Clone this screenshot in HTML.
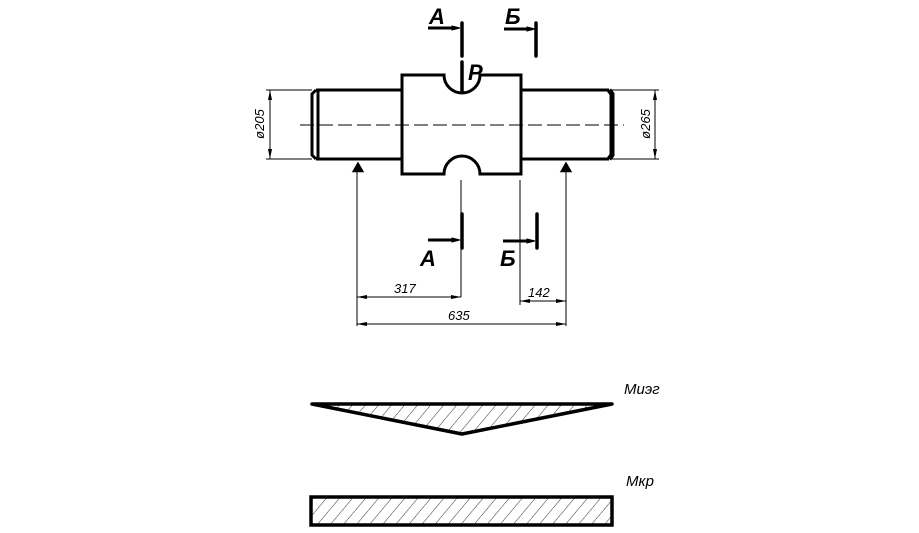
<!DOCTYPE html>
<html><head><meta charset="utf-8"><style>html,body{margin:0;padding:0;background:#fff}</style></head><body>
<svg width="919" height="528" viewBox="0 0 919 528" xmlns="http://www.w3.org/2000/svg" font-family="Liberation Sans, sans-serif">
<defs>
<pattern id="h" width="10" height="10" patternUnits="userSpaceOnUse" patternTransform="rotate(40)">
<line x1="0" y1="0" x2="0" y2="10" stroke="#000" stroke-width="0.8"/></pattern>
<marker id="ar" viewBox="0 0 10 6" refX="10" refY="3" markerWidth="10" markerHeight="6" markerUnits="userSpaceOnUse" orient="auto-start-reverse"><path d="M0,1 L10,3 L0,5z" fill="#000"/></marker>
</defs>
<g fill="none" stroke="#000">
<path d="M316,90 H402 V75 H444 A18,18 0 0 0 480,75 H521 V90 H609 M609,159 H521 V174 H480 A18,18 0 0 0 444,174 H402 V159 H316" stroke-width="3"/>
<path d="M316,90 L312,94 V155 L316,159 M318,90 V159 M402,90 V159 M521,90 V159" stroke-width="3"/>
<path d="M609,90 L612,94 V155 L609,159" stroke-width="5"/>
<line x1="300" y1="125" x2="624" y2="125" stroke-width="1" stroke-dasharray="14,5"/>
<path d="M266,90 H312 M266,159 H312 M612,90 H659 M612,159 H659" stroke-width="1"/>
<line x1="270" y1="90" x2="270" y2="159" stroke-width="1" marker-start="url(#ar)" marker-end="url(#ar)"/>
<line x1="655" y1="90" x2="655" y2="159" stroke-width="1" marker-start="url(#ar)" marker-end="url(#ar)"/>
<path d="M358,164 L354,171 H362 Z M566,164 L562,171 H570 Z" stroke-width="2.5" fill="#000"/>
<path d="M462,23 V56 M462,62 V92 M536,23 V56" stroke-width="3.5" stroke-linecap="round"/>
<path d="M428,28 H455 M504,29 H530" stroke-width="3"/>
<path d="M452,26 L460,28 L452,30Z M527,27 L535,29 L527,31Z" fill="#000" stroke-width="1"/>
<path d="M357,172 V326 M566,172 V326 M461,180 V297 M520,180 V305" stroke-width="1"/>
<path d="M462,214 V248 M537,214 V248" stroke-width="3.5" stroke-linecap="round"/>
<path d="M428,240 H455 M503,241 H530" stroke-width="3"/>
<path d="M452,238 L460,240 L452,242Z M527,239 L535,241 L527,243Z" fill="#000" stroke-width="1"/>
<line x1="357" y1="297" x2="461" y2="297" stroke-width="1" marker-start="url(#ar)" marker-end="url(#ar)"/>
<line x1="520" y1="301" x2="566" y2="301" stroke-width="1" marker-start="url(#ar)" marker-end="url(#ar)"/>
<line x1="357" y1="324" x2="566" y2="324" stroke-width="1" marker-start="url(#ar)" marker-end="url(#ar)"/>
<path d="M312,404 H612 L462,434 Z" fill="url(#h)" stroke="none"/>
<path d="M312,404 H612 L462,434 Z" stroke-width="3.5" stroke-linejoin="round"/>
<rect x="311" y="497" width="301" height="28" fill="url(#h)" stroke-width="3.5"/>
</g>
<g font-style="italic" fill="#000">
<text x="429" y="24" font-size="22" font-weight="bold">А</text>
<text x="505" y="24" font-size="22" font-weight="bold">Б</text>
<text x="468" y="80" font-size="22" font-weight="bold">P</text>
<text x="420" y="266" font-size="22" font-weight="bold">А</text>
<text x="500" y="266" font-size="22" font-weight="bold">Б</text>
<text x="394" y="293" font-size="13">317</text>
<text x="528" y="297" font-size="13">142</text>
<text x="448" y="320" font-size="13">635</text>
<text transform="translate(264,124) rotate(-90)" text-anchor="middle" font-size="13">ø205</text>
<text transform="translate(650,124) rotate(-90)" text-anchor="middle" font-size="13">ø265</text>
<text x="624" y="394" font-size="15">Миэг</text>
<text x="626" y="486" font-size="15">Мкр</text>
</g>
</svg>
</body></html>
